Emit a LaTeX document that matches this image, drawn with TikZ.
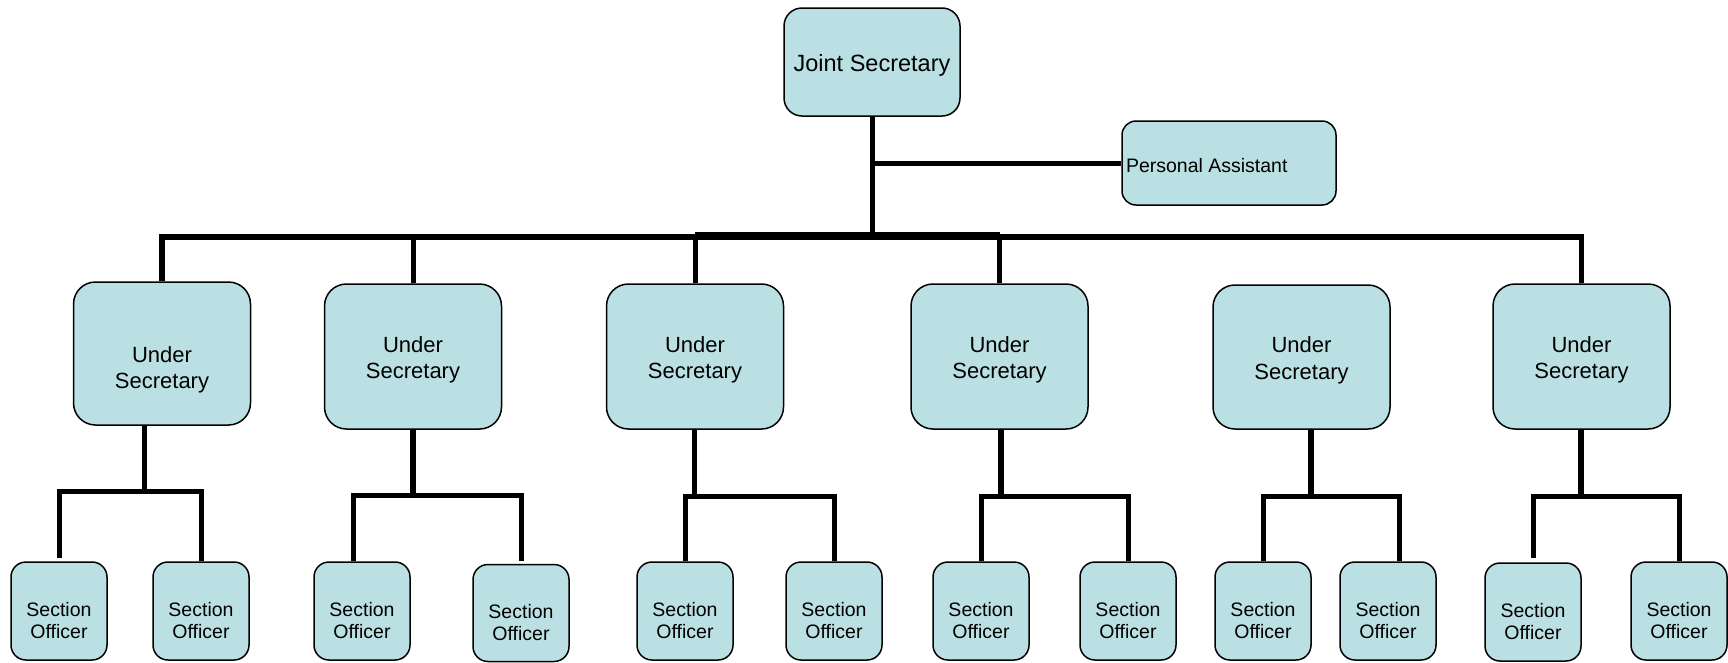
\documentclass[tikz,border=0pt]{standalone}
\usepackage{fontspec}
\setmainfont{Liberation Sans}
\definecolor{boxfill}{RGB}{187,224,227}
\newcommand\twoline[2]{\raisebox{#1}[0pt][0pt]{\begin{tabular}{@{}c@{}}#2\end{tabular}}}
\newcommand\oneline[2]{\raisebox{#1}[0pt][0pt]{#2}}
\begin{document}
\begin{tikzpicture}[x=1pt,y=-1pt,
  base/.style={draw=black, fill=boxfill, line width=1.5pt, inner sep=0pt},
  jsbox/.style={base, rounded corners=18pt, minimum width=176pt, minimum height=108pt, font=\fontsize{23.5}{28}\selectfont},
  pabox/.style={base, rounded corners=14pt, minimum width=214pt, minimum height=84pt, font=\fontsize{19.5}{22}\selectfont},
  usbox/.style={base, rounded corners=22pt, minimum width=177pt, minimum height=145pt, font=\fontsize{22}{26.5}\selectfont},
  sobox/.style={base, rounded corners=15pt, minimum width=96pt, minimum height=98pt, font=\fontsize{19.5}{22}\selectfont},
  conn/.style={draw=black, line width=5pt, line join=miter},
  thickconn/.style={conn, line width=6.5pt},
]
\useasboundingbox (0,0) rectangle (1728,662);

% top level
\node[jsbox] (js) at (872,62) {\oneline{-9.7pt}{Joint Secretary}};
\node[pabox] (pa) at (1229,163) {\oneline{-9pt}{\makebox[206pt][l]{Personal Assistant}}};

% under secretaries
\node[usbox, minimum height=143pt] (us1) at (162,353.5) {\twoline{-22pt}{Under\\Secretary}};
\node[usbox] (us2) at (413,356.5) {\twoline{-9pt}{Under\\Secretary}};
\node[usbox] (us3) at (695,356.5) {\twoline{-9pt}{Under\\Secretary}};
\node[usbox] (us4) at (999.5,356.5) {\twoline{-9pt}{Under\\Secretary}};
\node[usbox, minimum height=144pt] (us5) at (1301.5,357) {\twoline{-9pt}{Under\\Secretary}};
\node[usbox] (us6) at (1581.5,356.5) {\twoline{-9pt}{Under\\Secretary}};

% section officers
\node[sobox] (so1) at (59,611) {\twoline{-17.5pt}{Section\\Officer}};
\node[sobox] (so2) at (201,611) {\twoline{-17.5pt}{Section\\Officer}};
\node[sobox] (so3) at (362,611) {\twoline{-17.5pt}{Section\\Officer}};
\node[sobox, minimum height=97pt] (so4) at (521,613) {\twoline{-17.5pt}{Section\\Officer}};
\node[sobox] (so5) at (685,611) {\twoline{-17.5pt}{Section\\Officer}};
\node[sobox] (so6) at (834,611) {\twoline{-17.5pt}{Section\\Officer}};
\node[sobox] (so7) at (981,611) {\twoline{-17.5pt}{Section\\Officer}};
\node[sobox] (so8) at (1128,611) {\twoline{-17.5pt}{Section\\Officer}};
\node[sobox] (so9) at (1263,611) {\twoline{-17.5pt}{Section\\Officer}};
\node[sobox] (so10) at (1388,611) {\twoline{-17.5pt}{Section\\Officer}};
\node[sobox] (so11) at (1533,612) {\twoline{-17.5pt}{Section\\Officer}};
\node[sobox] (so12) at (1679,611) {\twoline{-17.5pt}{Section\\Officer}};

% junction coordinates
\coordinate (bar) at (872,237);
\coordinate (barc) at (872,235);
\coordinate (b1) at (144,491.5);
\coordinate (b2) at (413,495);
\coordinate (b3) at (694,496);
\coordinate (b4) at (1001,496);
\coordinate (b5) at (1311,496);
\coordinate (b6) at (1581,496);
\coordinate (d3) at (353,0);
\coordinate (d10) at (1399,0);

% top connectors
\draw[conn] (js.south) -- (js.south |- bar);
\draw[conn] (js.south |- pa.west) -- (pa.west);
\draw[conn, line width=5.5pt] (us1.north) -- (us1.north |- bar) -- (us6.north |- bar) -- (us6.north);
\draw[conn, line width=5.5pt] (us3.north |- barc) -- (us4.north |- barc);
\draw[conn] (us2.north |- bar) -- (us2.north);
\draw[conn] (us3.north |- bar) -- (us3.north);
\draw[conn] (us4.north |- bar) -- (us4.north);

% under secretary stems
\draw[conn] (us1.south -| b1) -- (b1);
\draw[thickconn] (us2.south -| b2) -- (b2);
\draw[conn] (us3.south -| b3) -- (b3);
\draw[thickconn] (us4.south -| b4) -- (b4);
\draw[thickconn] (us5.south -| b5) -- (b5);
\draw[thickconn] (us6.south -| b6) -- (b6);

% brackets to section officers
\draw[conn] ([yshift=3pt]so1.north) |- (b1) -| (so2.north);
\draw[conn] (so3.north -| d3) |- (b2) -| ([yshift=3pt]so4.north);
\draw[conn] (so5.north) |- (b3) -| (so6.north);
\draw[conn] (so7.north) |- (b4) -| (so8.north);
\draw[conn] (so9.north) |- (b5) -| (so10.north -| d10);
\draw[conn] ([yshift=4pt]so11.north) |- (b6) -| (so12.north);
\end{tikzpicture}
\end{document}
